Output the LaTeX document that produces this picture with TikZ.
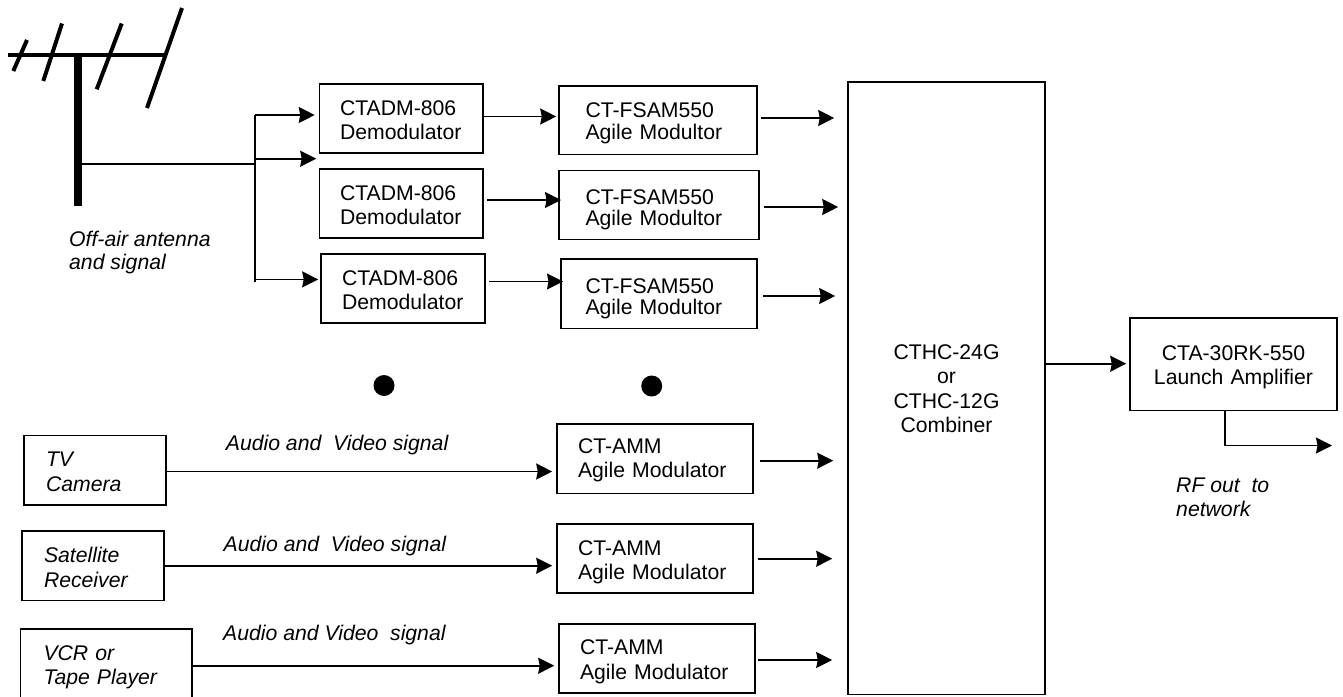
\documentclass[tikz,border=0pt]{standalone}
\usepackage{fontspec}
\setmainfont{Liberation Sans}
\usetikzlibrary{arrows.meta}
\tikzset{
  boxnode/.style={draw=black,line width=1.6pt,inner sep=0pt,align=left},
  conn/.style={draw=black,line width=1.6pt,-{Stealth[length=16pt,width=16pt,inset=1.5pt]}},
  wire/.style={draw=black,line width=1.6pt},
  spoke/.style={draw=black,line width=4pt},
  caption/.style={inner sep=0pt,anchor=base west,align=left},
  blob/.style={circle,fill=black,draw=none,minimum size=21pt,inner sep=0pt}
}
% name, x1, y1, x2, y2, padding, downward text shift, options, then the text
\newcommand\bx[8]{%
  \pgfmathsetmacro\bw{#4-#2}\pgfmathsetmacro\bh{#5-#3}%
  \pgfmathsetmacro\bcx{(#2+#4)/2}\pgfmathsetmacro\bcy{(#3+#5)/2}%
  \pgfmathsetmacro\btw{#4-#2-2*#6}%
  \pgfmathsetmacro\brh{15.2+2*#7}%
  \node[boxnode,#8,minimum width=\bw pt,minimum height=\bh pt,text width=\btw pt,at={(\bcx,\bcy)},execute at begin node={\rule{0pt}{\brh pt}}] (#1)}
\begin{document}
\begin{tikzpicture}[x=1pt,y=-1pt,font=\fontsize{21.2}{24}\selectfont]
\useasboundingbox (0,0) rectangle (1343,696);
\clip (0,0) rectangle (1343,696);
% antenna
\draw[spoke] (8,55) -- (166.5,55);
\draw[draw=black,line width=8pt] (78,55) -- (78,206);
\draw[spoke] (27,40) -- (13.3,71);
\draw[spoke] (62,23.5) -- (43.3,81);
\draw[spoke] (121.7,23.5) -- (96.7,89.3);
\draw[spoke] (182,8) -- (147,108);
\coordinate (feed) at (82,163.7);
\coordinate (busTop) at (255,115);
\coordinate (busBot) at (255,281.5);
\coordinate (busMid) at (255,163.7);
\draw[wire] (feed) -- (busMid);
\draw[wire] (busTop) -- (busBot);
% demodulators
\bx{D1}{319.5}{84}{483}{153}{20.5}{1.5}{font=\fontsize{21.2}{24}\selectfont}{CTADM-806\\Demodulator};
\bx{D2}{319.5}{169}{483}{238}{20.5}{1.5}{font=\fontsize{21.2}{24}\selectfont}{CTADM-806\\Demodulator};
\bx{D3}{321}{254}{485}{323}{21}{1.5}{font=\fontsize{21.2}{24}\selectfont}{CTADM-806\\Demodulator};
% modulators
\bx{M1}{559}{86}{757}{154.5}{26.5}{3}{font=\fontsize{21.2}{21.5}\selectfont}{CT-FSAM550\\Agile Modultor};
\bx{M2}{559}{170.5}{759}{239.5}{26.5}{4.5}{font=\fontsize{21.2}{21.5}\selectfont}{CT-FSAM550\\Agile Modultor};
\bx{M3}{561}{259}{757}{328.5}{24.5}{5}{font=\fontsize{21.2}{21.5}\selectfont}{CT-FSAM550\\Agile Modultor};
% agile modulators
\bx{A1}{557}{424}{753}{493.5}{21}{1.5}{font=\fontsize{21.2}{24}\selectfont}{CT-AMM\\Agile Modulator};
\bx{A2}{557}{524}{753}{593}{21}{3.5}{font=\fontsize{21.2}{24}\selectfont}{CT-AMM\\Agile Modulator};
\bx{A3}{559}{624}{755}{693}{21}{3}{font=\fontsize{21.2}{25}\selectfont}{CT-AMM\\Agile Modulator};
% sources
\bx{TV}{24}{435.5}{166}{505}{22}{1.5}{font=\fontsize{21.2}{25}\selectfont\itshape}{TV\\Camera};
\bx{Sat}{22}{531}{164}{600.5}{22}{1.5}{font=\fontsize{21.2}{25}\selectfont\itshape}{Satellite\\Receiver};
\bx{VCR}{20.5}{629}{192}{698}{23}{3.5}{font=\fontsize{21.2}{24}\selectfont\itshape}{VCR or\\Tape Player};
% combiner and amplifier
\bx{C}{848}{82}{1045}{694.5}{45}{0}{align=center,font=\fontsize{21.2}{24.5}\selectfont}{CTHC-24G\\or\\CTHC-12G\\Combiner};
\bx{Amp}{1130}{318}{1337}{410.5}{20}{3}{align=center,font=\fontsize{21.2}{24}\selectfont}{CTA-30RK-550\\Launch Amplifier};
% dots
\node[blob] (dotA) at (384,385.5) {};
\node[blob] (dotB) at (651.7,386) {};
% captions
\node[caption,font=\fontsize{21.2}{23.5}\selectfont\itshape] (offair) at (69,269.5) {Off-air antenna\\and signal};
\node[caption,font=\fontsize{21.2}{24}\selectfont\itshape] (rf) at (1176,516) {RF out\ \ to\\network};
\node[caption,font=\fontsize{21.2}{24}\selectfont\itshape] (sigA) at (225.7,450.7) {Audio and\ \ Video signal};
\node[caption,font=\fontsize{21.2}{24}\selectfont\itshape] (sigB) at (223.5,551.7) {Audio and\ \ Video signal};
\node[caption,font=\fontsize{21.2}{24}\selectfont\itshape] (sigC) at (223,640.7) {Audio and Video\ \ signal};
% connectors
\draw[conn,shorten >=4pt] (busTop) -- (D1.west |- busTop);
\draw[conn,shorten >=2.5pt] (255,158.7) -- (D1.west |- 0,158.7);
\draw[conn,shorten >=2pt] (255,279.4) -- (D3.west |- 0,279.4);
\draw[conn,shorten >=2pt] (D1.east |- 0,116.5) -- (M1.west |- 0,116.5);
\draw[conn,shorten <=3pt] (D2.east |- 0,200) -- (561,200);
\draw[conn,shorten <=3pt] (D3.east |- 0,281.5) -- (563,281.5);
\draw[conn,shorten <=3pt,shorten >=13pt] (M1.east |- 0,118) -- (C.west |- 0,118);
\draw[conn,shorten <=4pt,shorten >=9pt] (M2.east |- 0,207) -- (C.west |- 0,207);
\draw[conn,shorten <=5pt,shorten >=12pt] (M3.east |- 0,296) -- (C.west |- 0,296);
\draw[conn,shorten <=6pt,shorten >=14pt] (A1.east |- 0,460.7) -- (C.west |- 0,460.7);
\draw[conn,shorten <=4pt,shorten >=15pt] (A2.east |- 0,558.7) -- (C.west |- 0,558.7);
\draw[conn,shorten <=2pt,shorten >=15pt] (A3.east |- 0,660) -- (C.west |- 0,660);
\draw[conn,shorten >=4pt] (TV.east |- 0,471.5) -- (A1.west |- 0,471.5);
\draw[conn,shorten >=4pt] (Sat.east |- 0,565.7) -- (A2.west |- 0,565.7);
\draw[conn,shorten >=4pt] (VCR.east |- 0,665.7) -- (A3.west |- 0,665.7);
\draw[conn,shorten >=3pt] (C.east |- 0,363.7) -- (Amp.west |- 0,363.7);
\coordinate (rfEnd) at (1332,445.5);
\draw[conn] (Amp.south -| 1225,0) -- (1225,445.5) -- (rfEnd);
\end{tikzpicture}
\end{document}
